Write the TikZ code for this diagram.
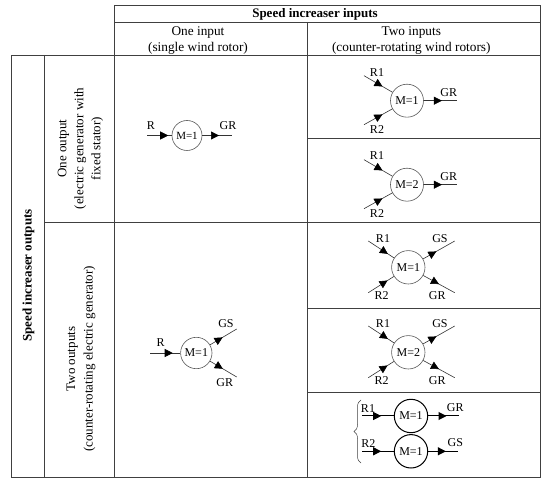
\documentclass[tikz,border=0pt]{standalone}
\usepackage{fontspec}
\setmainfont{Liberation Serif}
\usepackage{tikz}
\usetikzlibrary{arrows.meta,positioning,calc,decorations.markings,decorations.pathreplacing}

\begin{document}
\begin{tikzpicture}[
  x=1pt,y=-1pt,
  gridline/.style={draw=black!75,line width=0.8pt},
  head/.style={inner sep=0pt,align=center,font=\fontsize{13.3}{16}\selectfont},
  headb/.style={head,font=\fontsize{13}{16}\selectfont\bfseries},
  gear/.style={circle,draw=black!65,fill=white,line width=0.6pt,inner sep=0pt,
    minimum size=#1,font=\fontsize{12}{14}\selectfont},
  gearb/.style={gear=#1,draw=black,line width=1pt},
  tag/.style={inner sep=0pt,font=\fontsize{12}{14}\selectfont},
  flow/.style={draw=black!80,line width=0.6pt,postaction={decorate},
    decoration={markings,mark=at position #1 with {\arrow{Triangle[length=8pt,width=8pt,black]}}}},
  flowb/.style={flow=#1,draw=black,line width=1pt}
]
  \useasboundingbox (0,0) rectangle (550,484);

  % table
  \draw[gridline] (114.5,5) -- (540.5,5) -- (540.5,477) -- (11,477) -- (11,55) -- (540.5,55);
  \draw[gridline] (114.5,22) -- (540.5,22);
  \draw[gridline] (114.5,5) -- (114.5,477);
  \draw[gridline] (307.5,22) -- (307.5,477);
  \draw[gridline] (44.5,55) -- (44.5,477);
  \draw[gridline] (44.5,222.5) -- (540.5,222.5);
  \draw[gridline] (307.5,138) -- (540.5,138);
  \draw[gridline] (307.5,308) -- (540.5,308);
  \draw[gridline] (307.5,392.7) -- (540.5,392.7);

  % headers
  \node[headb] (inputs) at (315,14) {Speed increaser inputs};
  \node[head] (oneinput) at (198,40.5) {One input\\(single wind rotor)};
  \node[head] (twoinputs) at (411.3,40.5) {Two inputs\\(counter-rotating wind rotors)};
  \node[headb,rotate=90] (outputs) at (28.5,275.5) {Speed increaser outputs};
  \node[head,rotate=90,font=\fontsize{13}{17}\selectfont] (oneoutput) at (80.5,148.5)
    {One output\\(electric generator with\\fixed stator)};
  \node[head,rotate=90,font=\fontsize{13}{17.5}\selectfont] (twooutputs) at (81,359)
    {Two outputs\\(counter-rotating electric generator)};

  % one input, one output
  \node[gear=30pt,font=\fontsize{11}{14}\selectfont] (gearA) at (187,135.5) {M=1};
  \coordinate (inA) at (147,135.5);
  \coordinate (outA) at (231.7,135.5);
  \draw[flow=0.86] (inA) -- (gearA);
  \draw[flow=0.57] (gearA) -- (outA);
  \node[tag] (tagAr) at (151,125.5) {R};
  \node[tag] (tagAg) at (228,125.5) {GR};

  % two inputs, one output, M=1
  \node[gear=33pt] (gearB) at (407,100.7) {M=1};
  \coordinate (inBa) at (364,75.7);
  \coordinate (inBb) at (364,124.7);
  \coordinate (outB) at (456.7,100.7);
  \draw[flow=0.65] (inBa) -- (gearB);
  \draw[flow=0.65] (inBb) -- (gearB);
  \draw[flow=0.55] (gearB) -- (outB);
  \node[tag] (tagBa) at (377,72.7) {R1};
  \node[tag] (tagBb) at (377,130) {R2};
  \node[tag] (tagBg) at (448.7,93) {GR};

  % two inputs, one output, M=2
  \node[gear=33pt] (gearC) at (407,184.7) {M=2};
  \coordinate (inCa) at (364,159.7);
  \coordinate (inCb) at (364,208.7);
  \coordinate (outC) at (456.7,184.7);
  \draw[flow=0.65] (inCa) -- (gearC);
  \draw[flow=0.65] (inCb) -- (gearC);
  \draw[flow=0.55] (gearC) -- (outC);
  \node[tag] (tagCa) at (377,156) {R1};
  \node[tag] (tagCb) at (377,213.5) {R2};
  \node[tag] (tagCg) at (448.7,176.5) {GR};

  % two inputs, two outputs, M=1
  \node[gear=33.4pt] (gearD) at (408.3,267.3) {M=1};
  \coordinate (inDa) at (368.3,241);
  \coordinate (inDb) at (368.3,292.7);
  \coordinate (outDa) at (454.7,241);
  \coordinate (outDb) at (454.7,292.7);
  \draw[flow=0.76] (inDa) -- (gearD);
  \draw[flow=0.75] (inDb) -- (gearD);
  \draw[flow=0.42] (gearD) -- (outDa);
  \draw[flow=0.5] (gearD) -- (outDb);
  \node[tag] (tagDa) at (383,238.3) {R1};
  \node[tag] (tagDb) at (381.7,296) {R2};
  \node[tag] (tagDs) at (440,238.3) {GS};
  \node[tag] (tagDg) at (437.3,296) {GR};

  % two inputs, two outputs, M=2
  \node[gear=33.4pt] (gearE) at (408.3,352.3) {M=2};
  \coordinate (inEa) at (368.3,326);
  \coordinate (inEb) at (368.3,377.7);
  \coordinate (outEa) at (454.7,326);
  \coordinate (outEb) at (454.7,377.7);
  \draw[flow=0.76] (inEa) -- (gearE);
  \draw[flow=0.75] (inEb) -- (gearE);
  \draw[flow=0.42] (gearE) -- (outEa);
  \draw[flow=0.5] (gearE) -- (outEb);
  \node[tag] (tagEa) at (383,323.5) {R1};
  \node[tag] (tagEb) at (381.7,381) {R2};
  \node[tag] (tagEs) at (440,323.5) {GS};
  \node[tag] (tagEg) at (437.3,381) {GR};

  % two separate stages
  \node[gearb=33.4pt] (gearF) at (411,416) {M=1};
  \node[gearb=33.4pt] (gearG) at (411,451.3) {M=1};
  \coordinate (inF) at (362.3,416);
  \coordinate (outF) at (458.7,416);
  \coordinate (inG) at (362.3,451.3);
  \coordinate (outG) at (457.7,451.3);
  \draw[flowb=0.6] (inF) -- (gearF);
  \draw[flowb=0.6] (gearF) -- (outF);
  \draw[flowb=0.6] (inG) -- (gearG);
  \draw[flowb=0.6] (gearG) -- (outG);
  \node[tag] (tagFa) at (368,408.3) {R1};
  \node[tag] (tagFg) at (455.3,408) {GR};
  \node[tag] (tagGa) at (368.3,444) {R2};
  \node[tag] (tagGs) at (455.3,443) {GS};
  \coordinate (braceend) at (361,463);
  \coordinate (bracetop) at (361,400);
  \draw[draw=black!75,line width=0.5pt,decorate,decoration={brace,amplitude=7pt}] (braceend) -- (bracetop);

  % one input, two outputs
  \node[gear=31.4pt] (gearH) at (196.3,353) {M=1};
  \coordinate (inH) at (150,353);
  \coordinate (outHa) at (236.7,329);
  \coordinate (outHb) at (236.7,377);
  \draw[flow=0.75] (inH) -- (gearH);
  \draw[flow=0.47] (gearH) -- (outHa);
  \draw[flow=0.48] (gearH) -- (outHb);
  \node[tag] (tagHr) at (160.7,343) {R};
  \node[tag] (tagHs) at (226,323.7) {GS};
  \node[tag] (tagHg) at (224.7,382.3) {GR};
\end{tikzpicture}
\end{document}
